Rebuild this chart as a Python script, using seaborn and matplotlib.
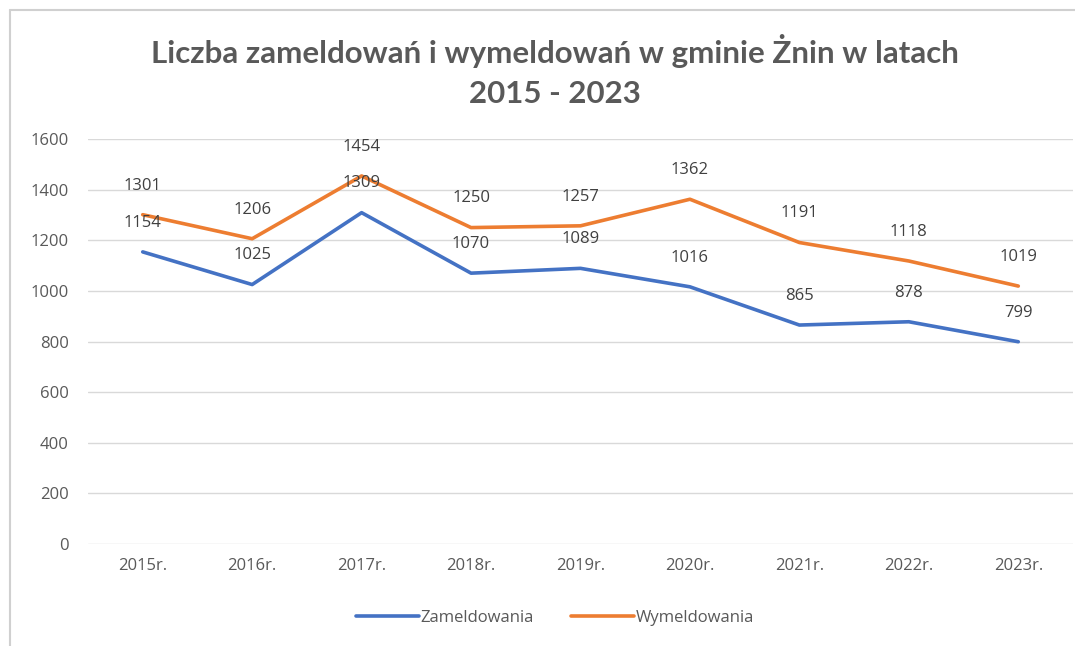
import matplotlib
matplotlib.use("Agg")
import matplotlib.pyplot as plt
from matplotlib.lines import Line2D
import seaborn as sns
import pandas as pd

years = ["2015r.", "2016r.", "2017r.", "2018r.", "2019r.", "2020r.", "2021r.", "2022r.", "2023r."]
zameldowania = [1154, 1025, 1309, 1070, 1089, 1016, 865, 878, 799]
wymeldowania = [1301, 1206, 1454, 1250, 1257, 1362, 1191, 1118, 1019]

BLUE = "#4472C4"
ORANGE = "#ED7D31"
GREY = "#595959"

df = pd.DataFrame({
    "rok": years * 2,
    "liczba": zameldowania + wymeldowania,
    "seria": ["Zameldowania"] * len(years) + ["Wymeldowania"] * len(years),
})

sns.set_style("white")
plt.rcParams["font.family"] = ["Open Sans", "DejaVu Sans"]

fig = plt.figure(figsize=(10.75, 6.46), dpi=100)
ax = fig.add_axes([88 / 1075, 1 - 544 / 646, (1073 - 88) / 1075, (544 - 139) / 646])

sns.lineplot(data=df, x="rok", y="liczba", hue="seria", sort=False,
             palette={"Zameldowania": BLUE, "Wymeldowania": ORANGE},
             linewidth=2.6, ax=ax, legend=False)

for series, vals in (("Zameldowania", zameldowania), ("Wymeldowania", wymeldowania)):
    for i, v in enumerate(vals):
        ax.annotate(str(v), (i, v), xytext=(0, 21), textcoords="offset points",
                    ha="center", va="center", fontsize=12, color="#404040")

ax.set_xlim(-0.5, len(years) - 0.5)
ax.set_ylim(0, 1600)
ax.set_yticks(range(0, 1601, 200))
ax.yaxis.grid(True, color="#D9D9D9", linewidth=1)
ax.xaxis.grid(False)
for s in ax.spines.values():
    s.set_visible(False)
ax.tick_params(axis="both", length=0, labelsize=12, labelcolor=GREY)
ax.tick_params(axis="y", pad=14)
ax.tick_params(axis="x", pad=10)
ax.set_xlabel("")
ax.set_ylabel("")

fig.text(555 / 1075, 1 - 71 / 646,
         "Liczba zameldowań i wymeldowań w gminie Żnin w latach\n2015 - 2023",
         ha="center", va="center", fontsize=22.5, fontweight="bold", color=GREY,
         family=["Lato", "DejaVu Sans"], linespacing=1.5)

handles = [Line2D([], [], color=BLUE, linewidth=2.6), Line2D([], [], color=ORANGE, linewidth=2.6)]
fig.legend(handles, ["Zameldowania", "Wymeldowania"], loc="center",
           bbox_to_anchor=(555 / 1075, 1 - 618 / 646), ncol=2, frameon=False,
           fontsize=12, labelcolor=GREY, handlelength=3.8, handletextpad=0.1,
           columnspacing=2.2)

# chart border (left and top edges visible in the reference)
fig.add_artist(Line2D([10 / 1075, 10 / 1075], [0, 1 - 10 / 646], color="#D0D0D0", linewidth=1.5))
fig.add_artist(Line2D([10 / 1075, 1], [1 - 10 / 646, 1 - 10 / 646], color="#D0D0D0", linewidth=1.5))

fig.savefig("out.png", dpi=100)
